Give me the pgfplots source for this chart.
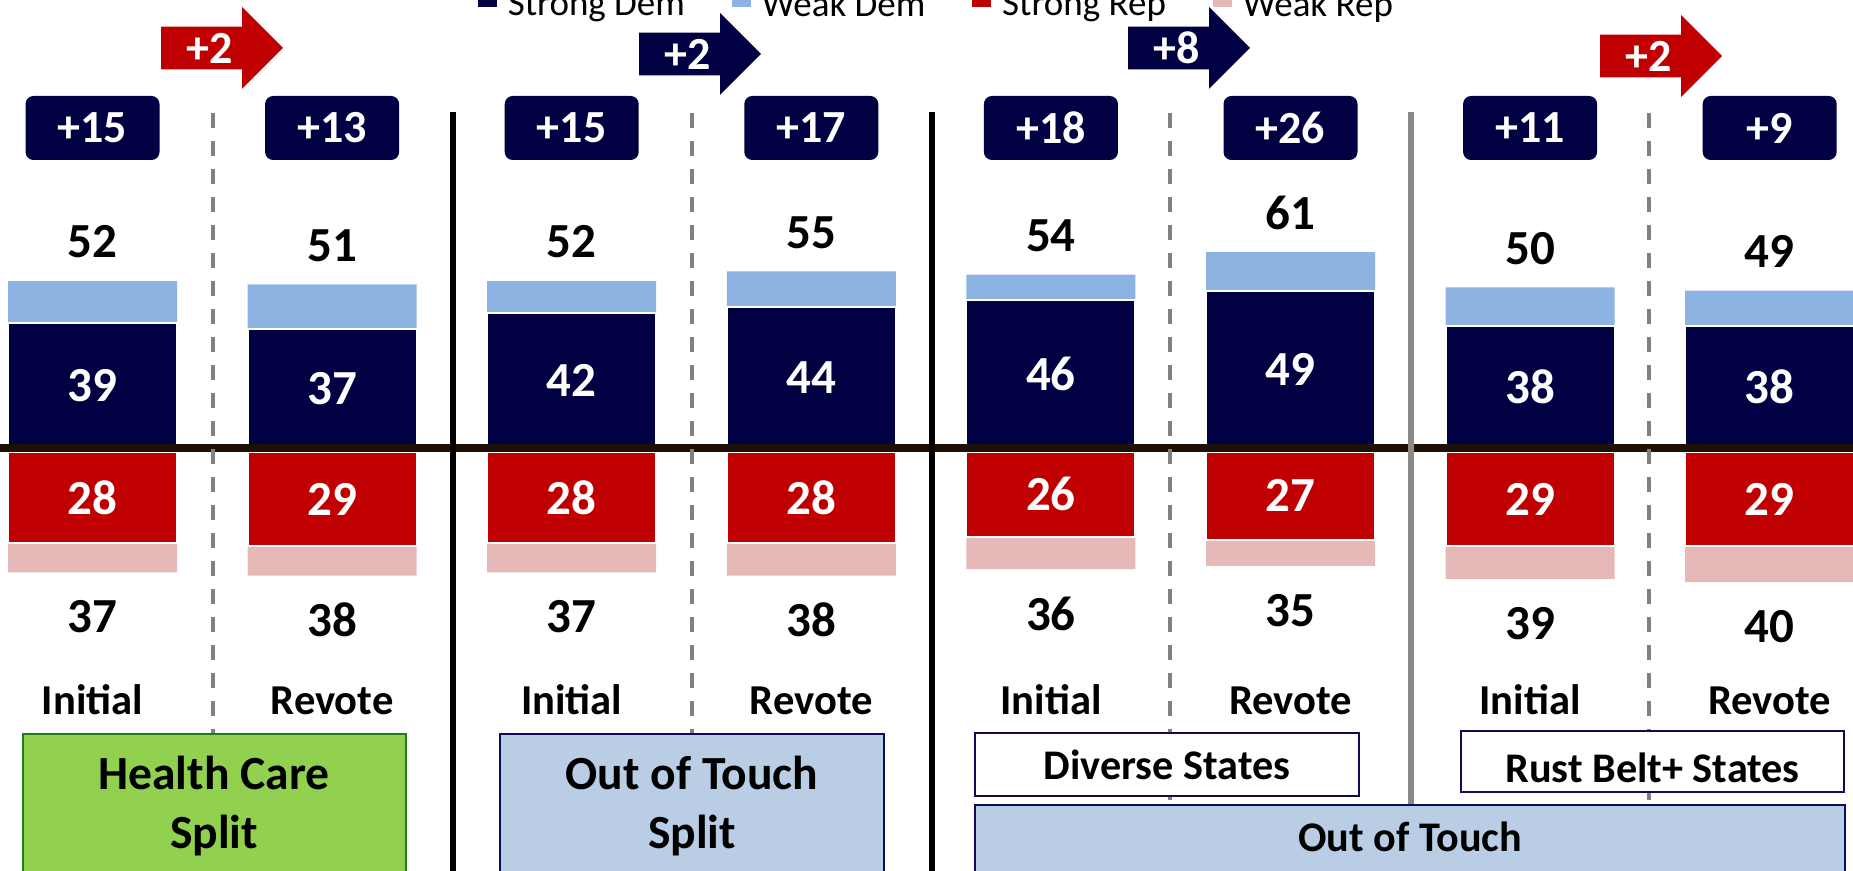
\documentclass[border=0pt]{standalone}
\usepackage{pgfplots}
\pgfplotsset{compat=1.18}
\usepackage{pgfplotstable}
\usepackage{fontspec}
\setmainfont{Carlito}

\definecolor{navy}{HTML}{000042}
\definecolor{lblue}{HTML}{8DB3E2}
\definecolor{rred}{HTML}{C00000}
\definecolor{lpink}{HTML}{E6B9B8}
\definecolor{zeroc}{HTML}{1E1004}
\definecolor{dashgray}{HTML}{808080}
\definecolor{sepgray}{HTML}{8A8A8A}
\definecolor{hcgreen}{HTML}{92D050}
\definecolor{hcborder}{HTML}{1E7B1E}
\definecolor{steel}{HTML}{B9CDE5}
\definecolor{bnavy}{HTML}{0D0D55}

\newcommand\numfont{\fontsize{24.5}{29}\selectfont\bfseries}
\newcommand\catfont{\fontsize{21.3}{26}\selectfont\bfseries}
\newcommand\marfont{\fontsize{23}{27}\selectfont\bfseries}
\newcommand\legfont{\fontsize{18.5}{22}\selectfont}
\newcommand\boxfont{\fontsize{23.8}{28}\selectfont\bfseries}
\newcommand\sboxfont{\fontsize{21.1}{25}\selectfont\bfseries}

% sd/wd = strong/weak dem, sr/wr = strong/weak rep, m = margin
\pgfplotstableread{
x sd wd sr wr m
0 39 13 28 9  15
1 37 14 29 9  13
2 42 10 28 9  15
3 44 11 28 10 17
4 46 8  26 10 18
5 49 12 27 8  26
6 38 12 29 10 11
7 38 11 29 11 9
}\votes

% arrow: x0, centre y, colour, text (pixel coordinates)
\newcommand\arr[4]{%
  \fill[#3] (#1,#2-21.3) -- (#1+81,#2-21.3) -- (#1+81,#2-41) -- (#1+122,#2)
    -- (#1+81,#2+41) -- (#1+81,#2+21.3) -- (#1,#2+21.3) -- cycle;
  \node[text=white, font=\marfont] at (#1+49,#2) {#4};}

\pgfplotsset{
  panel/.style={
    at={(0pt,0pt)}, anchor=south west,
    scale only axis, width=926.5pt, height=435.5pt,
    xmin=-0.3861, xmax=7.3477, enlargelimits=false, clip=false,
    ybar, bar width=84.5pt, bar shift=0pt,
    /pgf/number format/assume math mode=true,
  },
}

\begin{document}
\begin{tikzpicture}
\useasboundingbox (0,0) rectangle (926.5pt,435.5pt);
\clip (0,0) rectangle (926.5pt,435.5pt);

% Democratic side
\begin{axis}[panel,
  ymin=-131.776, ymax=139.564,
  axis line style={draw=none}, tick style={draw=none},
  ytick=\empty, xtick={0,...,7},
  xticklabels={Initial,Revote,Initial,Revote,Initial,Revote,Initial,Revote},
  xticklabel style={anchor=base, yshift=82.65pt, font=\catfont},
  legend columns=4,
  legend style={draw=none, fill=none, inner sep=0pt, outer sep=0pt,
    nodes={inner sep=0pt}, font=\legfont,
    at={(axis description cs:0.258,0.9775)}, anchor=south west,
    /tikz/every even column/.append style={column sep=23.5pt}},
]
\addplot[forget plot, fill=lblue, draw=none, nodes near coords, point meta=y,
  nodes near coords style={anchor=center, yshift=19.5pt, font=\numfont, text=black}]
  table[x=x, y expr=\thisrow{sd}+\thisrow{wd}] {\votes};
\addplot[forget plot, fill=navy, draw=white, line width=1pt]
  table[x=x, y=sd] {\votes};
\addplot[forget plot, draw=none, fill=none, nodes near coords, point meta=\thisrow{sd},
  nodes near coords style={anchor=center, font=\numfont, text=white}]
  table[x=x, y expr=\thisrow{sd}/2] {\votes};
\addplot[forget plot, draw=none, fill=none,
  nodes near coords={+\pgfmathprintnumber{\pgfplotspointmeta}}, point meta=\thisrow{m},
  nodes near coords style={anchor=center, fill=navy, text=white, rounded corners=4pt,
    minimum width=67pt, minimum height=32pt, inner sep=0pt, font=\marfont}]
  table[x=x, y expr=99.69] {\votes};

\addlegendimage{legend image code/.code={\fill[navy] (0pt,-0.5pt) rectangle (9pt,8.5pt);\path (14.5pt,0pt);}}
\addlegendentry{Strong Dem}
\addlegendimage{legend image code/.code={\fill[lblue] (0pt,-0.5pt) rectangle (9pt,8.5pt);\path (14.5pt,0pt);}}
\addlegendentry{Weak Dem}
\addlegendimage{legend image code/.code={\fill[rred] (0pt,-0.5pt) rectangle (9pt,8.5pt);\path (14.5pt,0pt);}}
\addlegendentry{Strong Rep}
\addlegendimage{legend image code/.code={\fill[lpink] (0pt,-0.5pt) rectangle (9pt,8.5pt);\path (14.5pt,0pt);}}
\addlegendentry{Weak Rep}
\end{axis}

% Republican side
\begin{axis}[panel, hide axis, ymin=-128.528, ymax=138.650]
\addplot[fill=lpink, draw=none, nodes near coords, point meta={\thisrow{sr}+\thisrow{wr}},
  nodes near coords style={anchor=center, yshift=-22.25pt, font=\numfont, text=black}]
  table[x=x, y expr=-\thisrow{sr}-\thisrow{wr}] {\votes};
\addplot[fill=rred, draw=white, line width=1pt]
  table[x=x, y expr=-\thisrow{sr}] {\votes};
\addplot[draw=none, fill=none, nodes near coords, point meta=\thisrow{sr},
  nodes near coords style={anchor=center, font=\numfont, text=white}]
  table[x=x, y expr=-\thisrow{sr}/2] {\votes};
\end{axis}

% annotations in pixel coordinates (origin top left)
\begin{scope}[x=0.5pt, y=-0.5pt, shift={(0pt,435.5pt)}]
  \draw[zeroc, line width=4pt] (0,448) -- (1853,448);
  \foreach \xx in {213,692,1170,1649}
    \draw[dashgray, line width=2pt, dash pattern=on 7.5pt off 6.5pt] (\xx,113) -- (\xx,880);
  \draw[black, line width=3pt] (452.5,112) -- (452.5,880);
  \draw[black, line width=3pt] (932,112) -- (932,880);
  \draw[sepgray, line width=3pt] (1411,112) -- (1411,806);

  \draw[fill=hcgreen, draw=hcborder, line width=1pt] (22.5,734) rectangle (406,880);
  \node[anchor=base, font=\boxfont] at (214,790) {Health Care};
  \node[anchor=base, font=\boxfont] at (214,849) {Split};
  \draw[fill=steel, draw=bnavy, line width=1pt] (500,734) rectangle (884,880);
  \node[anchor=base, font=\boxfont] at (692,790) {Out of Touch};
  \node[anchor=base, font=\boxfont] at (692,849) {Split};
  \draw[fill=white, draw=bnavy, line width=1pt] (975,733) rectangle (1359,796);
  \node[anchor=base, font=\sboxfont] at (1167,780) {Diverse States};
  \draw[fill=white, draw=bnavy, line width=1pt] (1461,731) rectangle (1844,792);
  \node[anchor=base, font=\sboxfont] at (1652.5,783) {Rust Belt+ States};
  \draw[fill=steel, draw=bnavy, line width=1pt] (975,805) rectangle (1845,880);
  \node[anchor=base, font=\sboxfont] at (1410,852) {Out of Touch};

  \arr{161}{48}{rred}{+2}
  \arr{639}{54}{navy}{+2}
  \arr{1128}{48}{navy}{+8}
  \arr{1600}{56}{rred}{+2}
\end{scope}
\end{tikzpicture}
\end{document}
